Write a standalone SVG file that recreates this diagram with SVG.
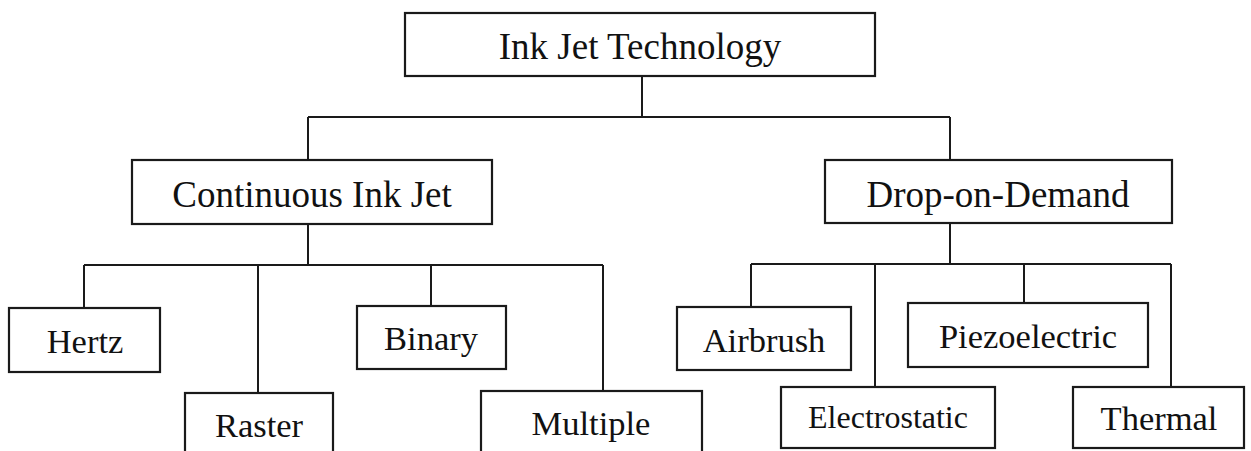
<svg xmlns="http://www.w3.org/2000/svg" width="1251" height="451" viewBox="0 0 1251 451">
<style>
.box{fill:#fff;stroke:#1a1a1a;stroke-width:2.2}
.lbl{font-family:"Liberation Serif","Times New Roman",serif;fill:#111;text-anchor:middle}
.big{font-size:37px}
.sm{font-size:34.5px}
.con{fill:none;stroke:#1a1a1a;stroke-width:2}
</style>
<rect width="1251" height="451" fill="#fff"/>
<g id="connectors">
<path class="con" d="M642 76V117M308 117H950M308 117V160M950 117V160"/>
<path class="con" d="M308 224V265M84 265H603M84 265V308M258 265V393M431 265V306M603 265V391"/>
<path class="con" d="M950 223V264M751 264H1171M751 264V307M875 264V387M1024 264V303M1171 264V387"/>
</g>
<g id="ink-jet-technology"><rect class="box" x="405" y="13" width="470" height="63"/><text class="lbl big" x="640" y="59">Ink Jet Technology</text></g>
<g id="continuous-ink-jet"><rect class="box" x="132" y="160" width="360" height="64"/><text class="lbl big" x="312" y="207">Continuous Ink Jet</text></g>
<g id="drop-on-demand"><rect class="box" x="825" y="160" width="347" height="63"/><text class="lbl big" x="998" y="207">Drop-on-Demand</text></g>
<g id="hertz"><rect class="box" x="9" y="308" width="151" height="64"/><text class="lbl sm" x="85" y="353">Hertz</text></g>
<g id="raster"><rect class="box" x="185" y="393" width="148" height="70"/><text class="lbl sm" x="259" y="437">Raster</text></g>
<g id="binary"><rect class="box" x="357" y="306" width="149" height="63"/><text class="lbl sm" x="431" y="350">Binary</text></g>
<g id="multiple"><rect class="box" x="481" y="391" width="221" height="70"/><text class="lbl sm" x="591" y="435">Multiple</text></g>
<g id="airbrush"><rect class="box" x="677" y="307" width="174" height="63"/><text class="lbl sm" x="764" y="352">Airbrush</text></g>
<g id="electrostatic"><rect class="box" x="781" y="387" width="214" height="61"/><text class="lbl" style="font-size:32px" x="888" y="428">Electrostatic</text></g>
<g id="piezoelectric"><rect class="box" x="908" y="303" width="240" height="64"/><text class="lbl sm" x="1028" y="348">Piezoelectric</text></g>
<g id="thermal"><rect class="box" x="1073" y="387" width="171" height="61"/><text class="lbl sm" x="1159" y="430">Thermal</text></g>
</svg>
